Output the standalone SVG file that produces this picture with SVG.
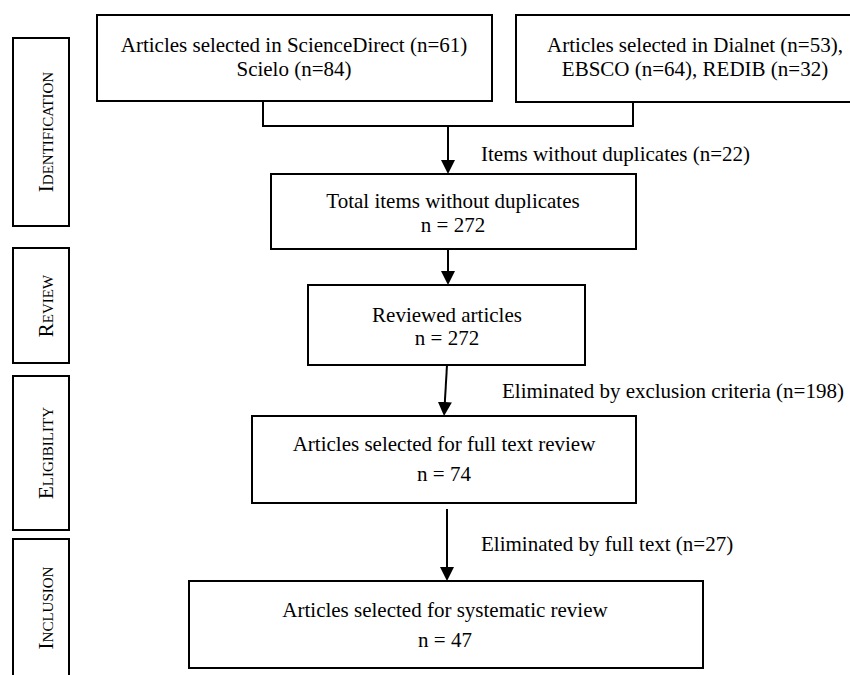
<svg xmlns="http://www.w3.org/2000/svg" width="850" height="675" viewBox="0 0 850 675">
  <style>
    .box { fill: #ffffff; stroke: #000000; stroke-width: 2; }
    .t { font-family: "Liberation Serif", "Times New Roman", serif; font-size: 21px; fill: #000000; }
    .c { text-anchor: middle; }
    .side { font-family: "Liberation Serif", "Times New Roman", serif; font-size: 21px; font-variant: small-caps; text-anchor: middle; fill: #000000; }
    .conn { fill: none; stroke: #000000; stroke-width: 2; }
  </style>
  <defs>
    <marker id="arrow" markerUnits="userSpaceOnUse" markerWidth="14" markerHeight="14" refX="1" refY="7" orient="auto">
      <path d="M0,0 L14,7 L0,14 Z" fill="#000000"/>
    </marker>
  </defs>
  <rect width="850" height="675" fill="#ffffff"/>

  <g id="stage-identification">
    <rect class="box" x="13" y="38" width="56" height="188"/>
    <text class="side" transform="translate(53,132) rotate(-90)">Identification</text>
  </g>
  <g id="stage-review">
    <rect class="box" x="13" y="248" width="56" height="115"/>
    <text class="side" transform="translate(53,306) rotate(-90)">Review</text>
  </g>
  <g id="stage-eligibility">
    <rect class="box" x="13" y="376" width="56" height="154"/>
    <text class="side" transform="translate(53,453) rotate(-90)">Eligibility</text>
  </g>
  <g id="stage-inclusion">
    <rect class="box" x="13" y="539" width="56" height="140"/>
    <text class="side" transform="translate(53,608) rotate(-90)">Inclusion</text>
  </g>

  <g id="connectors">
    <path class="conn" d="M263,101 V126 H633 V101"/>
    <path class="conn" d="M448,126 V161" marker-end="url(#arrow)"/>
    <path class="conn" d="M448,249 V272" marker-end="url(#arrow)"/>
    <path class="conn" d="M447,365 L444.8,403" marker-end="url(#arrow)"/>
    <path class="conn" d="M447,509 V568" marker-end="url(#arrow)"/>
    <text class="t" x="481" y="161">Items without duplicates (n=22)</text>
    <text class="t" x="502" y="398">Eliminated by exclusion criteria (n=198)</text>
    <text class="t" x="481" y="551">Eliminated by full text (n=27)</text>
  </g>

  <g id="sciencedirect">
    <rect class="box" x="97" y="15" width="395" height="86"/>
    <text class="t c" x="294" y="52">Articles selected in ScienceDirect (n=61)</text>
    <text class="t c" x="294" y="76">Scielo (n=84)</text>
  </g>
  <g id="dialnet">
    <rect class="box" x="516" y="15" width="358" height="87"/>
    <text class="t c" x="695" y="52">Articles selected in Dialnet (n=53),</text>
    <text class="t c" x="695" y="76">EBSCO (n=64), REDIB (n=32)</text>
  </g>
  <g id="total">
    <rect class="box" x="271" y="174" width="365" height="75"/>
    <text class="t c" x="453" y="208">Total items without duplicates</text>
    <text class="t c" x="453" y="232">n = 272</text>
  </g>
  <g id="reviewed">
    <rect class="box" x="308" y="285" width="277" height="80"/>
    <text class="t c" x="447" y="322">Reviewed articles</text>
    <text class="t c" x="447" y="345">n = 272</text>
  </g>
  <g id="fulltext">
    <rect class="box" x="252" y="416" width="384" height="87"/>
    <text class="t c" x="444" y="451">Articles selected for full text review</text>
    <text class="t c" x="444" y="481">n = 74</text>
  </g>
  <g id="systematic">
    <rect class="box" x="189" y="581" width="514" height="87"/>
    <text class="t c" x="445" y="617">Articles selected for systematic review</text>
    <text class="t c" x="445" y="647">n = 47</text>
  </g>
</svg>
